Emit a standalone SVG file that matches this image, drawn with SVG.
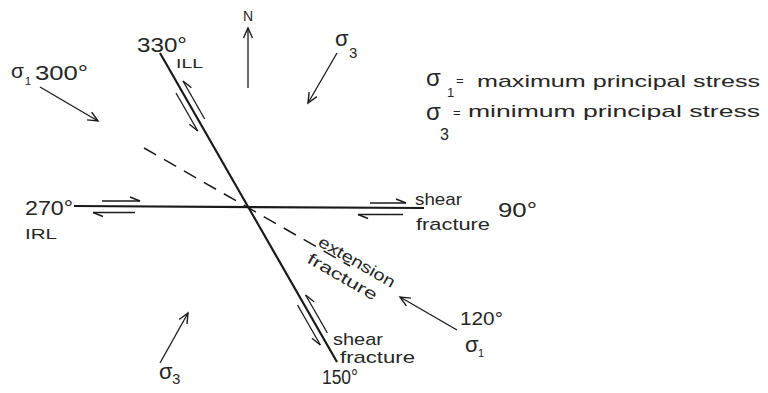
<svg xmlns="http://www.w3.org/2000/svg" width="768" height="393" viewBox="0 0 768 393">
<style>
.t{font-family:"Liberation Sans",Arial,sans-serif;fill:#262626;}
.main{stroke:#1a1a1a;stroke-width:2.2;fill:none;}
.dash{stroke:#1a1a1a;stroke-width:1.5;fill:none;stroke-dasharray:14 9;}
.arr{stroke:#1a1a1a;stroke-width:1.3;fill:none;marker-end:url(#ah);}
.slipL{stroke:#1a1a1a;stroke-width:1.3;fill:none;marker-end:url(#halfL);}
.slipR{stroke:#1a1a1a;stroke-width:1.3;fill:none;marker-end:url(#halfR);}
</style>
<defs>
<marker id="ah" markerUnits="userSpaceOnUse" markerWidth="14" markerHeight="12" refX="11" refY="6" orient="auto" viewBox="0 0 14 12">
<path d="M1,1.5 L11,6 L1,10.5" fill="none" stroke="#1a1a1a" stroke-width="1.4"/>
</marker>
<marker id="halfL" markerUnits="userSpaceOnUse" markerWidth="14" markerHeight="10" refX="12" refY="6" orient="auto" viewBox="0 0 14 10">
<path d="M12,6 L2,2" fill="none" stroke="#1a1a1a" stroke-width="1.4"/>
</marker>
<marker id="halfR" markerUnits="userSpaceOnUse" markerWidth="14" markerHeight="10" refX="12" refY="4" orient="auto" viewBox="0 0 14 10">
<path d="M12,4 L2,8" fill="none" stroke="#1a1a1a" stroke-width="1.4"/>
</marker>
</defs>
<rect width="768" height="393" fill="#ffffff"/>

<g id="connectors">
<line class="main" x1="74" y1="206" x2="424" y2="208"/>
<line class="main" x1="160" y1="53" x2="337" y2="362"/>
<line class="dash" x1="144" y1="148" x2="350" y2="266"/>
<line class="slipL" x1="102" y1="201" x2="140" y2="201"/>
<line class="slipL" x1="135" y1="212.5" x2="93" y2="212.5"/>
<line class="slipL" x1="370" y1="203" x2="406" y2="203"/>
<line class="slipL" x1="403" y1="214.5" x2="358" y2="214.5"/>
<line class="slipR" x1="204.7" y1="119" x2="183" y2="81"/>
<line class="slipR" x1="176" y1="93" x2="197.8" y2="131"/>
<line class="slipR" x1="327.4" y1="333" x2="305.6" y2="295"/>
<line class="slipR" x1="297.5" y1="305" x2="320.4" y2="345"/>
<line class="arr" x1="40" y1="87" x2="98" y2="121"/>
<line class="arr" x1="457" y1="330" x2="400" y2="297"/>
<line class="arr" x1="337" y1="53" x2="308" y2="103"/>
<line class="arr" x1="160" y1="363" x2="188" y2="313"/>
<line class="arr" x1="248" y1="88" x2="248" y2="28"/>
</g>

<g id="north">
<text class="t" x="248" y="21" font-size="14" text-anchor="middle">N</text>
</g>

<g id="label-330">
<text class="t" x="137" y="52" font-size="20" textLength="50" lengthAdjust="spacingAndGlyphs">330°</text>
<text class="t" x="176" y="68" font-size="13" textLength="27" lengthAdjust="spacingAndGlyphs">ILL</text>
</g>

<g id="label-sigma1-300">
<text class="t" x="11" y="78" font-size="21">σ</text>
<text class="t" x="25" y="85" font-size="11">1</text>
<text class="t" x="35" y="80" font-size="20" textLength="53" lengthAdjust="spacingAndGlyphs">300°</text>
</g>

<g id="label-sigma3-top">
<text class="t" x="335" y="46" font-size="22">σ</text>
<text class="t" x="349" y="58" font-size="15">3</text>
</g>

<g id="legend">
<text class="t" x="426" y="86" font-size="24">σ</text>
<text class="t" x="447" y="97" font-size="13">1</text>
<text class="t" x="456" y="85" font-size="13">=</text>
<text class="t" x="477" y="87" font-size="17" textLength="283" lengthAdjust="spacingAndGlyphs">maximum  principal  stress</text>
<text class="t" x="426" y="120" font-size="24">σ</text>
<text class="t" x="440" y="140" font-size="16">3</text>
<text class="t" x="453" y="117" font-size="13">=</text>
<text class="t" x="468" y="117" font-size="17" textLength="292" lengthAdjust="spacingAndGlyphs">minimum  principal  stress</text>
</g>

<g id="label-270">
<text class="t" x="25" y="215" font-size="21" textLength="48" lengthAdjust="spacingAndGlyphs">270°</text>
<text class="t" x="25" y="239" font-size="15" textLength="32" lengthAdjust="spacingAndGlyphs">IRL</text>
</g>

<g id="label-90">
<text class="t" x="415" y="205" font-size="17" textLength="47" lengthAdjust="spacingAndGlyphs">shear</text>
<text class="t" x="416" y="230" font-size="17" textLength="74" lengthAdjust="spacingAndGlyphs">fracture</text>
<text class="t" x="498" y="217" font-size="20" textLength="39" lengthAdjust="spacingAndGlyphs">90°</text>
</g>

<g id="label-extension">
<text class="t" font-size="16" transform="translate(317,245) rotate(30)" textLength="86" lengthAdjust="spacingAndGlyphs">extension</text>
<text class="t" font-size="16" transform="translate(306,262) rotate(30)" textLength="78" lengthAdjust="spacingAndGlyphs">fracture</text>
</g>

<g id="label-150">
<text class="t" x="333" y="345" font-size="17" textLength="50" lengthAdjust="spacingAndGlyphs">shear</text>
<text class="t" x="340" y="363" font-size="17" textLength="75" lengthAdjust="spacingAndGlyphs">fracture</text>
<text class="t" x="322" y="384" font-size="20" textLength="36" lengthAdjust="spacingAndGlyphs">150°</text>
</g>

<g id="label-120">
<text class="t" x="460" y="325" font-size="19" textLength="43" lengthAdjust="spacingAndGlyphs">120°</text>
<text class="t" x="465" y="352" font-size="22">σ</text>
<text class="t" x="478" y="357" font-size="11">1</text>
</g>

<g id="label-sigma3-bottom">
<text class="t" x="159" y="379" font-size="22">σ</text>
<text class="t" x="172" y="384" font-size="15">3</text>
</g>
</svg>
